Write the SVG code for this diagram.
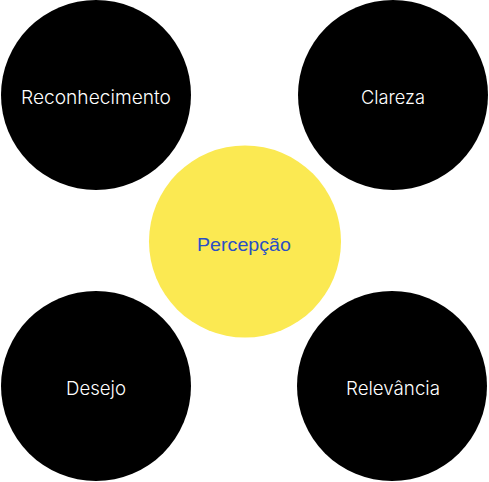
<svg xmlns="http://www.w3.org/2000/svg" width="489" height="482" viewBox="0 0 489 482">
<style>
.outer{fill:#000}
.core{fill:#FBE952}
.lbl{font-family:"Liberation Sans",Arial,sans-serif;font-size:18.5px;text-anchor:middle}
.w{fill:#fff;font-family:Inter,"Liberation Sans",Arial,sans-serif;font-weight:300}
.b{fill:#2A50C4}
</style>
<rect width="489" height="482" fill="#fff"/>
<g id="connectors"></g>
<g id="reconhecimento"><circle class="outer" cx="96" cy="95" r="95"/><text class="lbl w" x="96" y="104" textLength="150" lengthAdjust="spacingAndGlyphs">Reconhecimento</text></g>
<g id="clareza"><circle class="outer" cx="393" cy="95" r="95"/><text class="lbl w" x="393" y="104" textLength="64" lengthAdjust="spacingAndGlyphs">Clareza</text></g>
<g id="desejo"><circle class="outer" cx="96" cy="386" r="95"/><text class="lbl w" x="96" y="395" textLength="60" lengthAdjust="spacingAndGlyphs">Desejo</text></g>
<g id="relevancia"><circle class="outer" cx="392" cy="386" r="95"/><text class="lbl w" x="393" y="394.5" textLength="94" lengthAdjust="spacingAndGlyphs">Relevância</text></g>
<g id="percepcao"><circle class="core" cx="245" cy="241.5" r="96"/><text class="lbl b" x="244" y="250.5" textLength="94" lengthAdjust="spacingAndGlyphs">Percepção</text></g>
</svg>
